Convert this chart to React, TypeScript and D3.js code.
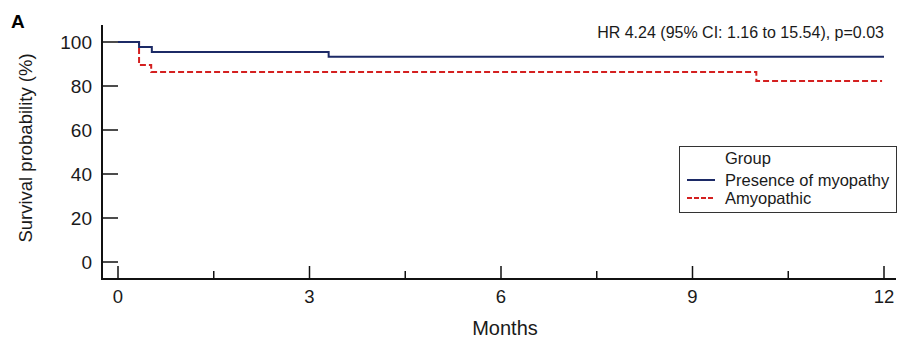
import React, { useRef, useEffect } from 'react';
import * as d3 from 'd3';

// Kaplan-Meier steps (month, survival %)
const myopathyTimes = [0, 0.33, 0.53, 3.3, 12];
const myopathySurv = [100, 97.7, 95.5, 93.3, 93.3];
const amyoTimes = [0, 0.33, 0.52, 10, 11.97];
const amyoSurv = [100, 89.5, 86.4, 82.3, 82.3];

const xTicks = [0, 3, 6, 9, 12];
const xMinorTicks = [1.5, 4.5, 7.5, 10.5];
const yTicks = [0, 20, 40, 60, 80, 100];
const legendLabels = ['Presence of myopathy', 'Amyopathic'];
const hrText = 'HR 4.24 (95% CI: 1.16 to 15.54), p=0.03';

const App = () => {
  const svgRef = useRef(null);

  useEffect(() => {
    const width = 900;
    const height = 343;
    const font = 'Liberation Sans, Arial, sans-serif';

    const svg = d3.select(svgRef.current);
    svg.selectAll('*').remove();
    svg.attr('width', width).attr('height', height);

    const x = d3.scaleLinear().domain([0, 12]).range([118, 884]);
    const y = d3.scaleLinear().domain([0, 100]).range([262, 42]);

    const axisX = 102;
    const axisY = 279;

    // axes lines
    svg.append('line')
      .attr('x1', axisX).attr('x2', axisX)
      .attr('y1', 25).attr('y2', axisY + 1)
      .attr('stroke', '#111').attr('stroke-width', 2);
    svg.append('line')
      .attr('x1', axisX).attr('x2', 896)
      .attr('y1', axisY).attr('y2', axisY)
      .attr('stroke', '#111').attr('stroke-width', 2);

    // y ticks
    svg.selectAll('.ytick')
      .data(yTicks)
      .enter()
      .append('line')
      .attr('x1', axisX).attr('x2', axisX + 16)
      .attr('y1', (d) => y(d)).attr('y2', (d) => y(d))
      .attr('stroke', '#111').attr('stroke-width', 1.5);
    svg.selectAll('.ylab')
      .data(yTicks)
      .enter()
      .append('text')
      .attr('x', 92)
      .attr('y', (d) => y(d) + 7)
      .attr('text-anchor', 'end')
      .attr('font-family', font)
      .attr('font-size', 19)
      .attr('fill', '#1a1a1a')
      .text((d) => d);

    // x ticks
    svg.selectAll('.xtick')
      .data(xTicks)
      .enter()
      .append('line')
      .attr('x1', (d) => x(d)).attr('x2', (d) => x(d))
      .attr('y1', axisY - 13).attr('y2', axisY)
      .attr('stroke', '#111').attr('stroke-width', 1.5);
    svg.selectAll('.xminor')
      .data(xMinorTicks)
      .enter()
      .append('line')
      .attr('x1', (d) => x(d)).attr('x2', (d) => x(d))
      .attr('y1', axisY - 8).attr('y2', axisY)
      .attr('stroke', '#111').attr('stroke-width', 1.5);
    svg.selectAll('.xlab')
      .data(xTicks)
      .enter()
      .append('text')
      .attr('x', (d) => x(d))
      .attr('y', 303)
      .attr('text-anchor', 'middle')
      .attr('font-family', font)
      .attr('font-size', 18.5)
      .attr('fill', '#1a1a1a')
      .text((d) => d);

    // axis titles
    svg.append('text')
      .attr('x', 505).attr('y', 335)
      .attr('text-anchor', 'middle')
      .attr('font-family', font).attr('font-size', 20)
      .attr('fill', '#1a1a1a')
      .text('Months');
    svg.append('text')
      .attr('transform', 'translate(32,148) rotate(-90)')
      .attr('text-anchor', 'middle')
      .attr('font-family', font).attr('font-size', 18.5)
      .attr('fill', '#1a1a1a')
      .text('Survival probability (%)');

    svg.append('text')
      .attr('x', 11).attr('y', 28)
      .attr('font-family', font).attr('font-size', 19)
      .attr('font-weight', 'bold')
      .text('A');

    svg.append('text')
      .attr('x', 884).attr('y', 38)
      .attr('text-anchor', 'end')
      .attr('font-family', font).attr('font-size', 16)
      .attr('fill', '#1a1a1a')
      .text(hrText);

    // survival curves
    const line = d3.line()
      .x((d) => x(d[0]))
      .y((d) => y(d[1]))
      .curve(d3.curveStepAfter);

    svg.append('path')
      .datum(d3.zip(amyoTimes, amyoSurv))
      .attr('d', line)
      .attr('fill', 'none')
      .attr('stroke', '#d42020')
      .attr('stroke-width', 2)
      .attr('stroke-dasharray', '6,3');

    svg.append('path')
      .datum(d3.zip(myopathyTimes, myopathySurv))
      .attr('d', line)
      .attr('fill', 'none')
      .attr('stroke', '#1c2a66')
      .attr('stroke-width', 2);

    // legend
    const lg = svg.append('g');
    lg.append('rect')
      .attr('x', 679.5).attr('y', 146.5)
      .attr('width', 217).attr('height', 66)
      .attr('fill', 'white')
      .attr('stroke', '#333').attr('stroke-width', 1);
    lg.append('text')
      .attr('x', 725).attr('y', 164)
      .attr('font-family', font).attr('font-size', 16.5)
      .attr('fill', '#1a1a1a')
      .text('Group');
    const colors = ['#1c2a66', '#d42020'];
    const dashes = [null, '5,2'];
    legendLabels.forEach((lab, i) => {
      const ly = 180 + i * 18;
      lg.append('line')
        .attr('x1', 687).attr('x2', 715)
        .attr('y1', ly).attr('y2', ly)
        .attr('stroke', colors[i]).attr('stroke-width', 2)
        .attr('stroke-dasharray', dashes[i]);
      lg.append('text')
        .attr('x', 725).attr('y', ly + 6)
        .attr('font-family', font).attr('font-size', 16.5)
        .attr('fill', '#1a1a1a')
        .text(lab);
    });
  }, []);

  return (
    <svg ref={svgRef} style={{ position: 'absolute', left: 0, top: 0 }} />
  );
};

export default App;
